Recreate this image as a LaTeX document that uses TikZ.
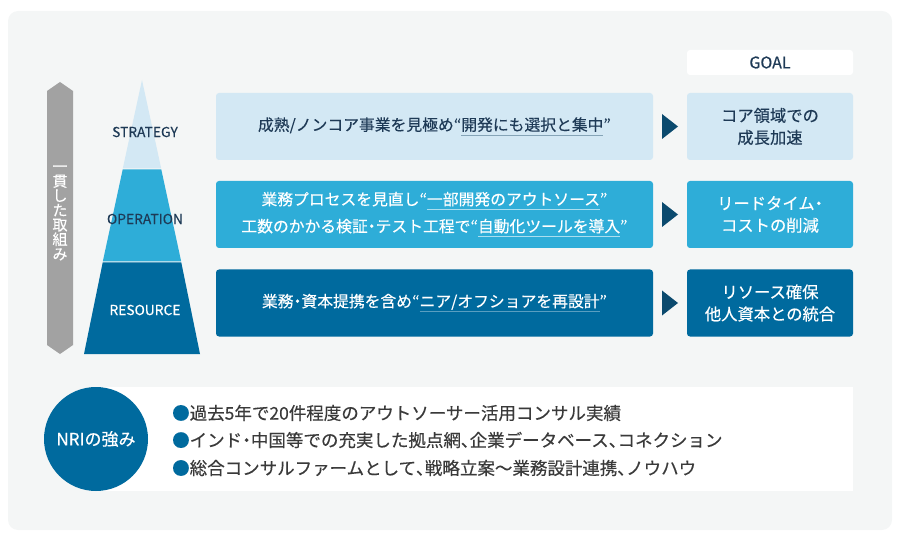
\documentclass[tikz,border=0pt]{standalone}
\usepackage{fontspec}
\setmainfont{Noto Sans CJK JP}[FakeBold=0.3]
\definecolor{bgpanel}{HTML}{F4F6F6}
\definecolor{paleblue}{HTML}{D3E8F4}
\definecolor{midblue}{HTML}{2EADD8}
\definecolor{deepblue}{HTML}{006A9E}
\definecolor{navy}{HTML}{0B4A6E}
\definecolor{inktext}{HTML}{1E3A56}
\definecolor{barsgray}{HTML}{A2A2A2}
\definecolor{bodytext}{HTML}{3A3A3A}
\newcommand\ulphrase[2]{\setbox0=\hbox{#2}\rlap{\color{#1}\rule[-5pt]{\wd0}{0.8pt}}\box0}
\newcommand\narrow[1]{{\addfontfeature{RawFeature=+palt}#1}}
\tikzset{
  measure/.style={font=\fontsize{15.8}{27}\selectfont, align=center, inner sep=0pt,
    rounded corners=3pt, minimum width=437pt, minimum height=67pt},
  goalbox/.style={font=\fontsize{16.3}{22}\selectfont, align=center, inner sep=0pt,
    rounded corners=3pt, minimum width=166pt, minimum height=67pt},
  layer/.style={font=\fontsize{13.8}{14}\selectfont},
  strength/.style={anchor=west, inner sep=0pt, text=bodytext, font=\fontsize{17.5}{18}\selectfont},
}
\newcommand\bulletdot{{\color{deepblue}●}}
\begin{document}
\begin{tikzpicture}[x=1pt,y=-1pt]
\useasboundingbox (0,0) rectangle (900,540);
\fill[bgpanel, rounded corners=10pt] (8,11) rectangle (892,530);

% vertical bar
\fill[barsgray] (47,91) -- (60,82) -- (73,91) -- (73,345) -- (60,354) -- (47,345) -- cycle;
\node[text=white, align=center, font=\fontsize{15}{14.6}\selectfont] (bar) at (60,213)
  {一\\貫\\し\\た\\取\\組\\み};

% pyramid
\fill[paleblue] (142,80) -- (161.2,168.5) -- (122.8,168.5) -- cycle;
\fill[midblue] (122.7,169.5) -- (161.3,169.5) -- (181.2,261.5) -- (102.8,261.5) -- cycle;
\fill[deepblue] (102.7,262.5) -- (181.3,262.5) -- (200,354) -- (84,354) -- cycle;
\node[layer, text=inktext] (S) at (145,132) {STRATEGY};
\node[layer, text=inktext] (O) at (145,219) {OPERATION};
\node[layer, text=white] (R) at (145,310) {RESOURCE};

% measures
\node[measure, fill=paleblue, text=inktext] (M1) at (434.5,126.5)
  {成熟/ノンコア事業を見極め“\ulphrase{navy!50}{開発にも選択と集中}”};
\node[measure, fill=midblue, text=white] (M2) at (434.5,214.5)
  {業務プロセスを見直し“\ulphrase{white!60!midblue}{一部開発のアウトソース}”\\
   工数のかかる検証\narrow{・}テスト工程で“\ulphrase{white!60!midblue}{自動化ツールを導入}”};
\node[measure, fill=deepblue, text=white] (M3) at (434.5,303)
  {業務\narrow{・}資本提携を含め“\ulphrase{white!35!deepblue}{ニア/オフショアを再設計}”};

% goals
\node[fill=white, rounded corners=3pt, minimum width=166pt, minimum height=25pt,
  text=inktext, font=\fontsize{16}{16}\selectfont] (goal) at (770,62.5) {GOAL};
\node[goalbox, fill=paleblue, text=inktext] (G1) at (770,126.5) {コア領域での\\成長加速};
\node[goalbox, fill=midblue, text=white] (G2) at (770,214.5) {リードタイム\narrow{・}\\コストの削減};
\node[goalbox, fill=deepblue, text=white] (G3) at (770,303) {リソース確保\\他人資本との統合};

\fill[navy] (662,114) -- (678,126.5) -- (662,139) -- cycle;
\fill[navy] (662,202) -- (678,214.5) -- (662,227) -- cycle;
\fill[navy] (662,290.5) -- (678,303) -- (662,315.5) -- cycle;

% strengths
\fill[white] (96,387) rectangle (853,491);
\node[circle, fill=deepblue, minimum size=104pt, inner sep=0pt, text=white,
  font=\fontsize{17}{17}\selectfont] (nri) at (96,439) {NRIの強み};
\node[strength] (s1) at (172,413) {\bulletdot 過去5年で20件程度のアウトソーサー活用コンサル実績};
\node[strength] (s2) at (172,440) {\bulletdot インド\narrow{・}中国等での充実した拠点網\narrow{、}企業データベース\narrow{、}コネクション};
\node[strength] (s3) at (172,468) {\bulletdot 総合コンサルファームとして\narrow{、}戦略立案～業務設計連携\narrow{、}ノウハウ};
\end{tikzpicture}
\end{document}
